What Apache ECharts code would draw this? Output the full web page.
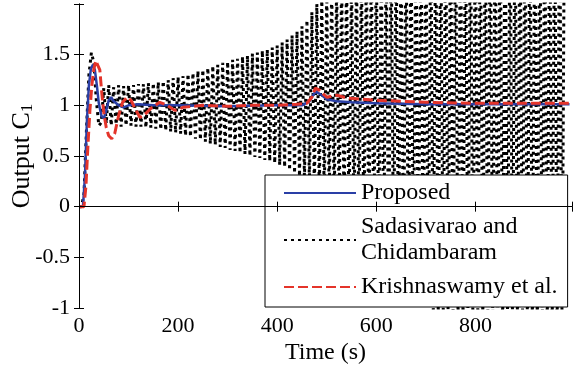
<!DOCTYPE html>
<html>
<head>
<meta charset="utf-8">
<script src="https://cdn.jsdelivr.net/npm/echarts@6/dist/echarts.min.js"></script>
<style>
  html, body { margin: 0; padding: 0; background: #fff; }
  #chart { width: 573px; height: 371px; }
</style>
</head>
<body>
<div id="chart"></div>
<script>
// x axis ticks
const xTicks = [0, 200, 400, 600, 800];
const yTicks = [-1, -0.5, 0, 0.5, 1, 1.5];

// Proposed (blue, solid)
const propT = [0, 8, 12, 16, 20, 24, 28, 32, 36, 40, 45, 50, 55, 60, 65, 70, 80, 90, 100, 120, 150, 200, 300, 400, 450, 465, 475, 480, 490, 500, 520, 550, 600, 700, 800, 990];
const propY = [0, 0, 0.3, 0.85, 1.2, 1.36, 1.4, 1.35, 1.2, 1.02, 0.9, 0.87, 0.95, 1.05, 1.08, 1.04, 1.0, 0.98, 1.0, 1.01, 1.0, 1.0, 0.99, 1.0, 1.0, 1.04, 1.12, 1.13, 1.1, 1.06, 1.04, 1.03, 1.02, 1.01, 1.01, 1.01];

// Krishnaswamy et al. (red, dashed)
const krisT = [0, 10, 14, 18, 22, 26, 30, 34, 38, 42, 46, 50, 55, 60, 66, 72, 80, 88, 97, 105, 113, 123, 133, 145, 163, 178, 194, 210, 250, 300, 350, 400, 440, 460, 470, 477, 485, 500, 510, 521, 535, 548, 600, 700, 800, 990];
const krisY = [0, 0, 0.2, 0.6, 0.95, 1.2, 1.36, 1.44, 1.45, 1.35, 1.12, 0.93, 0.78, 0.7, 0.67, 0.72, 0.9, 1.03, 1.08, 1.05, 0.97, 0.88, 0.91, 0.97, 1.03, 1.0, 0.95, 0.98, 1.0, 0.99, 1.0, 1.0, 1.01, 1.02, 1.08, 1.17, 1.15, 1.08, 1.09, 1.1, 1.08, 1.07, 1.05, 1.03, 1.02, 1.02];

// Sadasivarao and Chidambaram (black, dotted), sampled every 5 s from t = 0
const sadStep = 5;
const sadY = [
  0, 0, 0.12, 0.75, 1.3, 1.52, 1.42, 1.05, 0.8, 0.83,
  1.17, 0.82, 1.2, 0.8, 1.18, 0.81, 1.2, 0.79, 1.19, 0.8,
  1.2, 0.8, 1.2, 0.79, 1.21, 0.79, 1.21, 0.78, 1.22, 0.78,
  1.22, 0.77, 1.23, 0.76, 1.24, 0.75, 1.25, 0.74, 1.27, 0.73,
  1.28, 0.72, 1.29, 0.7, 1.31, 0.69, 1.32, 0.67, 1.34, 0.66,
  1.35, 0.64, 1.37, 0.62, 1.39, 0.61, 1.4, 0.59, 1.42, 0.58,
  1.43, 0.56, 1.45, 0.55, 1.46, 0.53, 1.48, 0.52, 1.49, 0.5,
  1.51, 0.49, 1.52, 0.48, 1.54, 0.46, 1.55, 0.45, 1.57, 0.43,
  1.59, 0.41, 1.62, 0.39, 1.65, 0.36, 1.69, 0.33, 1.73, 0.3,
  1.78, 0.27, 1.84, 0.23, 1.92, 0.18, 2.0, 0.13, 2.07, 0.08,
  2.13, 0.03, 2.18, -0.02, 2.22, -0.07, 2.26, -0.12, 2.3, -0.17,
  2.34, -0.22, 2.38, -0.27, 2.42, -0.32, 2.46, -0.37, 2.5, -0.42,
  2.54, -0.47, 2.58, -0.52, 2.62, -0.57, 2.66, -0.62, 2.7, -0.67,
  2.74, -0.72, 2.78, -0.77, 2.82, -0.82, 2.86, -0.87, 2.9, -0.93,
  2.94, -0.98, 2.98, -1.03, 3.02, -1.07, 3.05, -1.1, 3.07, -1.12,
  3.08, -1.13, 3.1, -1.14, 3.1, -1.15, 3.11, -1.15, 3.12, -1.16,
  3.12, -1.16, 3.13, -1.17, 3.13, -1.17, 3.14, -1.18, 3.14, -1.18,
  3.15, -1.18, 3.15, -1.19, 3.16, -1.19, 3.16, -1.2, 3.17, -1.2,
  3.17, -1.2, 3.18, -1.21, 3.18, -1.21, 3.19, -1.21, 3.19, -1.22,
  3.2, -1.22, 3.2, -1.22, 3.21, -1.23, 3.21
];

const names = ["Proposed", "Sadasivarao and\nChidambaram", "Krishnaswamy et al."];

function pairs(t, y) {
  return t.map((v, i) => [v, y[i]]);
}

let myChart = echarts.init(document.getElementById("chart"));

const serif = "Liberation Serif";
const axisCommon = {
  type: "value",
  axisLine: { show: true, lineStyle: { color: "#000", width: 1 } },
  axisTick: { show: true, inside: true, length: 5, lineStyle: { color: "#000" } },
  splitLine: { show: false },
  nameMoveOverlap: false,
  z: 5
};

let option = {
  animation: false,
  backgroundColor: "#fff",
  grid: { left: 79, right: 1, top: 4, bottom: 63, containLabel: false, outerBoundsMode: "none" },
  legend: {
    data: names,
    orient: "vertical",
    left: 265,
    top: 175,
    padding: [5, 10, 7, 18],
    itemGap: 8,
    itemWidth: 72,
    itemHeight: 14,
    backgroundColor: "#fff",
    borderColor: "#000",
    borderWidth: 1,
    borderRadius: 0,
    itemStyle: { opacity: 0 },
    textStyle: { fontFamily: serif, fontSize: 24, lineHeight: 26, color: "#000" }
  },
  xAxis: [
    Object.assign({}, axisCommon, {
      min: 0, max: 995, interval: 200,
      name: "Time (s)",
      nameLocation: "middle",
      nameGap: 33,
      nameTextStyle: { fontFamily: serif, fontSize: 24, color: "#000" },
      axisLabel: {
        margin: 7, fontFamily: serif, fontSize: 22, color: "#000",
        formatter: v => (xTicks.indexOf(v) >= 0 ? String(v) : "")
      }
    }),
    Object.assign({}, axisCommon, {
      position: "top", min: 0, max: 995, interval: 200,
      axisLabel: { show: false }
    })
  ],
  yAxis: [
    Object.assign({}, axisCommon, {
      min: -1, max: 2, interval: 0.5,
      name: "Output C{s|1}",
      nameLocation: "middle",
      nameRotate: 90,
      nameGap: 43,
      nameTextStyle: {
        fontFamily: serif, fontSize: 26, color: "#000",
        rich: { s: { fontFamily: serif, fontSize: 17, padding: [11, 0, 0, 0] } }
      },
      axisLabel: {
        margin: 9, fontFamily: serif, fontSize: 22, color: "#000",
        formatter: v => (yTicks.indexOf(v) >= 0 ? String(v) : "")
      }
    }),
    Object.assign({}, axisCommon, {
      position: "right", min: -1, max: 2, interval: 0.5,
      axisLabel: { show: false }
    })
  ],
  series: [
    {
      name: names[1],
      type: "line",
      data: sadY.map((v, i) => [i * sadStep, v]),
      symbol: "none",
      clip: true,
      lineStyle: { color: "#000", width: 3, type: [3, 4] },
      itemStyle: { color: "#000" },
      z: 2
    },
    {
      name: names[0],
      type: "line",
      data: pairs(propT, propY),
      symbol: "none",
      clip: true,
      lineStyle: { color: "#2a3fa6", width: 2.5, type: "solid" },
      itemStyle: { color: "#2a3fa6" },
      z: 3
    },
    {
      name: names[2],
      type: "line",
      data: pairs(krisT, krisY),
      symbol: "none",
      clip: true,
      lineStyle: { color: "#e4342a", width: 3, type: [10, 4] },
      itemStyle: { color: "#e4342a" },
      z: 4
    }
  ]
};

myChart.setOption(option);
</script>
</body>
</html>
